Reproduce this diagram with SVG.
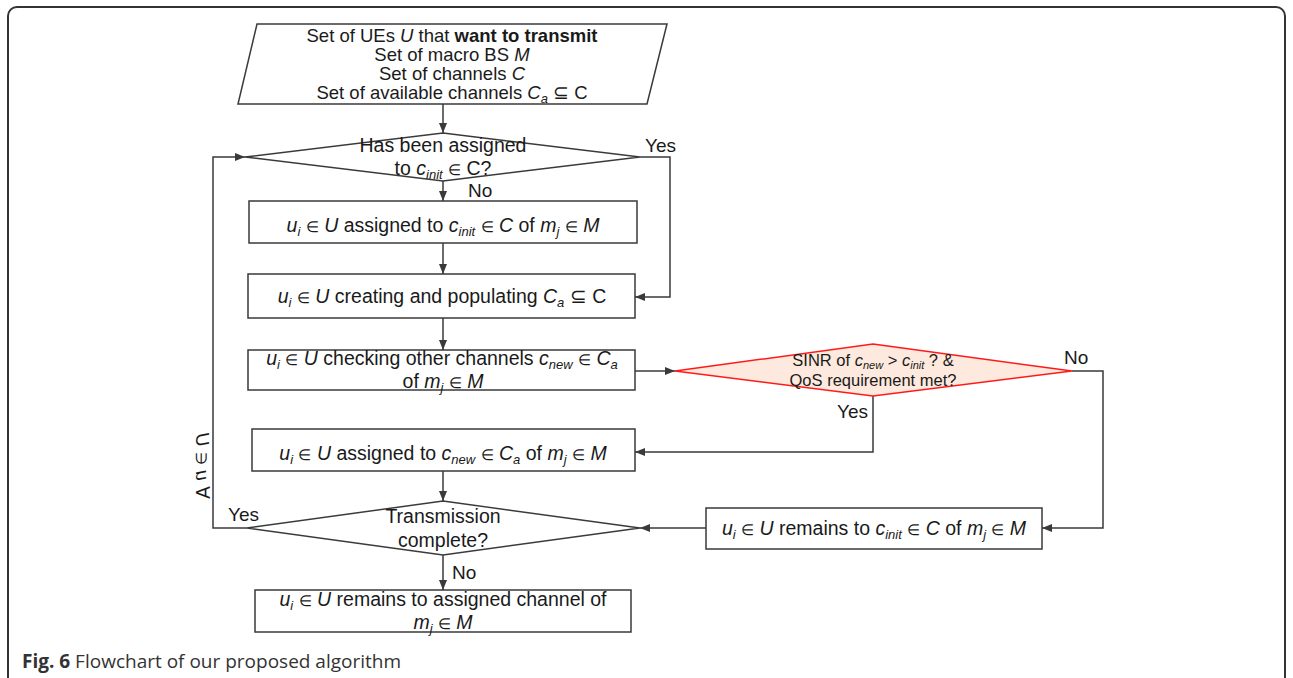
<svg xmlns="http://www.w3.org/2000/svg" width="1293" height="678" viewBox="0 0 1293 678">
  <style>
    .frame { fill: #ffffff; stroke: #333333; stroke-width: 2; }
    .shape { fill: #ffffff; stroke: #3a3a3a; stroke-width: 1.5; }
    .test { fill: #fde9dd; stroke: #ff1a1a; stroke-width: 1.5; }
    .conn { fill: none; stroke: #3a3a3a; stroke-width: 1.5; }
    text { font-family: "Liberation Sans", Arial, sans-serif; fill: #1a1a1a; }
    .t { font-size: 19.5px; text-anchor: middle; }
    .p { font-size: 18.5px; text-anchor: middle; }
    .s { font-size: 16.5px; text-anchor: middle; }
    .lbl { font-size: 19px; }
    .i { font-style: italic; }
    .e { font-size: 15px; }
    .sub { font-size: 13px; font-style: italic; }
    .subs { font-size: 11px; font-style: italic; }
    .cap { font-family: "Open Sans", "Noto Sans", sans-serif; font-size: 19px; fill: #333333; }
  </style>
  <defs>
    <marker id="arrow" markerWidth="10" markerHeight="8" refX="10" refY="4" orient="auto" markerUnits="userSpaceOnUse">
      <path d="M0,0 L10,4 L0,8 Z" fill="#3a3a3a"/>
    </marker>
  </defs>

  <rect class="frame" x="8" y="7" width="1277" height="690" rx="9"/>

  <!-- connectors -->
  <g id="connectors">
    <path class="conn" d="M443,104 V133" marker-end="url(#arrow)"/>
    <path class="conn" d="M443,181 V201" marker-end="url(#arrow)"/>
    <path class="conn" d="M443,243 V274" marker-end="url(#arrow)"/>
    <path class="conn" d="M640,157 H670 V297 H635" marker-end="url(#arrow)"/>
    <path class="conn" d="M443,318 V350" marker-end="url(#arrow)"/>
    <path class="conn" d="M635,371 H675" marker-end="url(#arrow)"/>
    <path class="conn" d="M873,396 V452 H635" marker-end="url(#arrow)"/>
    <path class="conn" d="M1072,371 H1103 V528 H1042" marker-end="url(#arrow)"/>
    <path class="conn" d="M443,471 V501" marker-end="url(#arrow)"/>
    <path class="conn" d="M706,528 H640" marker-end="url(#arrow)"/>
    <path class="conn" d="M443,555 V590" marker-end="url(#arrow)"/>
    <path class="conn" d="M247,528 H213 V157 H245" marker-end="url(#arrow)"/>
  </g>

  <!-- input sets -->
  <g id="input">
    <polygon class="shape" points="257,24 667,24 647,104 238,104"/>
    <text class="p" x="452" y="42">Set of UEs <tspan class="i">U</tspan> that <tspan font-weight="bold">want to transmit</tspan></text>
    <text class="p" x="452" y="61">Set of macro BS <tspan class="i">M</tspan></text>
    <text class="p" x="452" y="80">Set of channels <tspan class="i">C</tspan></text>
    <text class="p" x="452" y="99">Set of available channels <tspan class="i">C</tspan><tspan class="sub" dy="4">a</tspan><tspan dy="-4"> ⊆ C</tspan></text>
  </g>

  <!-- decision: already assigned -->
  <g id="assigned-check">
    <polygon class="shape" points="443,133 640,157 443,181 245,157"/>
    <text class="t" x="443" y="152">Has been assigned</text>
    <text class="t" x="443" y="175">to <tspan class="i">c</tspan><tspan class="sub" dy="4">init</tspan><tspan dy="-4"> </tspan><tspan class="e">∈</tspan> C?</text>
    <text class="lbl" x="645" y="152">Yes</text>
    <text class="lbl" x="468" y="197">No</text>
  </g>

  <!-- initial assignment -->
  <g id="assign-init">
    <rect class="shape" x="249" y="201" width="388" height="42"/>
    <text class="t" x="443" y="232"><tspan class="i">u</tspan><tspan class="sub" dy="4">i</tspan><tspan dy="-4"> </tspan><tspan class="e">∈</tspan> <tspan class="i">U</tspan> assigned to <tspan class="i">c</tspan><tspan class="sub" dy="4">init</tspan><tspan dy="-4"> </tspan><tspan class="e">∈</tspan> <tspan class="i">C</tspan> of <tspan class="i">m</tspan><tspan class="sub" dy="4">j</tspan><tspan dy="-4"> </tspan><tspan class="e">∈</tspan> <tspan class="i">M</tspan></text>
  </g>

  <!-- build available set -->
  <g id="populate">
    <rect class="shape" x="248" y="274" width="387" height="44"/>
    <text class="t" x="442" y="303"><tspan class="i">u</tspan><tspan class="sub" dy="4">i</tspan><tspan dy="-4"> </tspan><tspan class="e">∈</tspan> <tspan class="i">U</tspan> creating and populating <tspan class="i">C</tspan><tspan class="sub" dy="4">a</tspan><tspan dy="-4"> ⊆ C</tspan></text>
  </g>

  <!-- check other channels -->
  <g id="check-channels">
    <rect class="shape" x="248" y="350" width="387" height="40"/>
    <text class="t" x="442" y="365"><tspan class="i">u</tspan><tspan class="sub" dy="4">i</tspan><tspan dy="-4"> </tspan><tspan class="e">∈</tspan> <tspan class="i">U</tspan> checking other channels <tspan class="i">c</tspan><tspan class="sub" dy="4">new</tspan><tspan dy="-4"> </tspan><tspan class="e">∈</tspan> <tspan class="i">C</tspan><tspan class="sub" dy="4">a</tspan></text>
    <text class="t" x="443" y="388">of <tspan class="i">m</tspan><tspan class="sub" dy="4">j</tspan><tspan dy="-4"> </tspan><tspan class="e">∈</tspan> <tspan class="i">M</tspan></text>
  </g>

  <!-- decision: SINR and QoS -->
  <g id="sinr-check">
    <polygon class="test" points="873,344 1072,371 873,396 675,371"/>
    <text class="s" x="873" y="366">SINR of <tspan class="i">c</tspan><tspan class="subs" dy="3">new</tspan><tspan dy="-3"> &gt; </tspan><tspan class="i">c</tspan><tspan class="subs" dy="3">init</tspan><tspan dy="-3"> ? &amp;</tspan></text>
    <text class="s" x="873" y="386">QoS requirement met?</text>
    <text class="lbl" x="1064" y="364">No</text>
    <text class="lbl" x="837" y="418">Yes</text>
  </g>

  <!-- switch to new channel -->
  <g id="assign-new">
    <rect class="shape" x="252" y="429" width="383" height="42"/>
    <text class="t" x="443" y="460"><tspan class="i">u</tspan><tspan class="sub" dy="4">i</tspan><tspan dy="-4"> </tspan><tspan class="e">∈</tspan> <tspan class="i">U</tspan> assigned to <tspan class="i">c</tspan><tspan class="sub" dy="4">new</tspan><tspan dy="-4"> </tspan><tspan class="e">∈</tspan> <tspan class="i">C</tspan><tspan class="sub" dy="4">a</tspan><tspan dy="-4"> of </tspan><tspan class="i">m</tspan><tspan class="sub" dy="4">j</tspan><tspan dy="-4"> </tspan><tspan class="e">∈</tspan> <tspan class="i">M</tspan></text>
  </g>

  <!-- keep initial channel -->
  <g id="keep-init">
    <rect class="shape" x="706" y="508" width="336" height="41"/>
    <text class="t" x="874" y="535"><tspan class="i">u</tspan><tspan class="sub" dy="4">i</tspan><tspan dy="-4"> </tspan><tspan class="e">∈</tspan> <tspan class="i">U</tspan> remains to <tspan class="i">c</tspan><tspan class="sub" dy="4">init</tspan><tspan dy="-4"> </tspan><tspan class="e">∈</tspan> <tspan class="i">C</tspan> of <tspan class="i">m</tspan><tspan class="sub" dy="4">j</tspan><tspan dy="-4"> </tspan><tspan class="e">∈</tspan> <tspan class="i">M</tspan></text>
  </g>

  <!-- decision: transmission complete -->
  <g id="complete-check">
    <polygon class="shape" points="443,501 640,528 443,555 247,528"/>
    <text class="t" x="443" y="523">Transmission</text>
    <text class="t" x="443" y="547">complete?</text>
    <text class="lbl" x="228" y="521">Yes</text>
    <text class="lbl" x="452" y="579">No</text>
    <text class="lbl" transform="translate(196,466) scale(-1,1) rotate(-90)" text-anchor="middle">∀ <tspan class="i">u</tspan> <tspan class="e">∈</tspan> <tspan class="i">U</tspan></text>
  </g>

  <!-- keep assigned channel -->
  <g id="keep-assigned">
    <rect class="shape" x="255" y="590" width="376" height="42"/>
    <text class="t" x="443" y="606"><tspan class="i">u</tspan><tspan class="sub" dy="4">i</tspan><tspan dy="-4"> </tspan><tspan class="e">∈</tspan> <tspan class="i">U</tspan> remains to assigned channel of</text>
    <text class="t" x="443" y="629"><tspan class="i">m</tspan><tspan class="sub" dy="4">j</tspan><tspan dy="-4"> </tspan><tspan class="e">∈</tspan> <tspan class="i">M</tspan></text>
  </g>

  <text class="cap" x="22" y="668"><tspan font-weight="bold">Fig. 6</tspan> Flowchart of our proposed algorithm</text>
</svg>
